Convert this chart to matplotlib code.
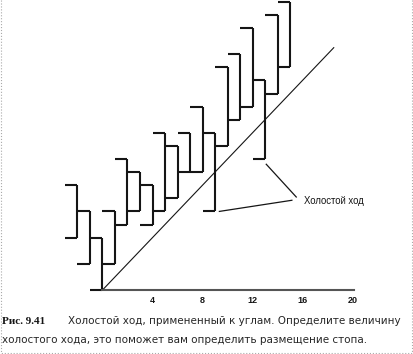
import matplotlib.pyplot as plt

# bars: x position, high and low (price units)
bar_x = list(range(-2, 16))
highs = [8, 6, 4, 6, 10, 9, 8, 12, 11, 12, 14, 12, 17, 18, 20, 16, 21, 22]
lows = [4, 2, 0, 2, 5, 6, 5, 6, 7, 9, 9, 6, 11, 13, 14, 10, 15, 17]

# 45 degree line from the corner
diag_x = [0, 18.5]
diag_y = [0, 18.5]

# "Холостой ход" pointers: start points on the bars, end near the label
ptr_start_x = [9.35, 13.1]
ptr_start_y = [6.0, 9.6]
ptr_end_x = [15.15, 15.5]
ptr_end_y = [6.85, 7.1]
label_pos = (16.1, 6.55)

xticks = [4, 8, 12, 16, 20]

fig = plt.figure(figsize=(4.13, 3.54), dpi=100)
ax = fig.add_axes([0, (354 - 290) / 354, 1, 290 / 354])
ax.set_xlim(-8.2, 24.84)
ax.set_ylim(0, 22.14)

ink = '#151515'
for x, hi, lo in zip(bar_x, highs, lows):
    ax.plot([x, x], [lo, hi], color=ink, lw=1.5, clip_on=False, solid_capstyle='butt')
    ax.plot([x - 1, x], [hi, hi], color=ink, lw=1.5, clip_on=False, solid_capstyle='butt')
    ax.plot([x - 1, x], [lo, lo], color=ink, lw=1.5, clip_on=False, solid_capstyle='butt')

ax.plot(diag_x, diag_y, color=ink, lw=0.8)

for sx, sy, ex, ey in zip(ptr_start_x, ptr_start_y, ptr_end_x, ptr_end_y):
    ax.plot([sx, ex], [sy, ey], color=ink, lw=0.9)
ax.text(label_pos[0], label_pos[1], 'Холостой ход', fontsize=6.9,
        family='Liberation Sans', ha='left', va='baseline', color=ink)

for s in ['left', 'top', 'right']:
    ax.spines[s].set_visible(False)
ax.spines['bottom'].set_bounds(0, 20.1)
ax.spines['bottom'].set_color('#555555')
ax.spines['bottom'].set_linewidth(1.5)
ax.set_yticks([])
ax.set_xticks(xticks)
ax.set_xticklabels([str(t) for t in xticks], fontsize=6.5,
                   family='Liberation Sans', fontweight='bold')
ax.tick_params(axis='x', length=0, pad=4.5, colors=ink)

# caption
fig.text(2 / 413, 30 / 354, 'Рис. 9.41', fontsize=8, family='Liberation Serif',
         fontweight='bold', va='baseline', color=ink)
fig.text(68 / 413, 30 / 354, 'Холостой ход, примененный к углам. Определите величину',
         fontsize=7.5, family='DejaVu Sans', va='baseline', color='#262626')
fig.text(2 / 413, 11 / 354, 'холостого хода, это поможет вам определить размещение стопа.',
         fontsize=7.5, family='DejaVu Sans', va='baseline', color='#262626')

# faint frame of the scan
fig.add_artist(plt.Line2D([0.002, 0.002, 0.998, 0.998], [1, 0.003, 0.003, 1],
                          transform=fig.transFigure, color='#aaaaaa', lw=0.8, ls=':'))

fig.savefig('out.png', dpi=100)
